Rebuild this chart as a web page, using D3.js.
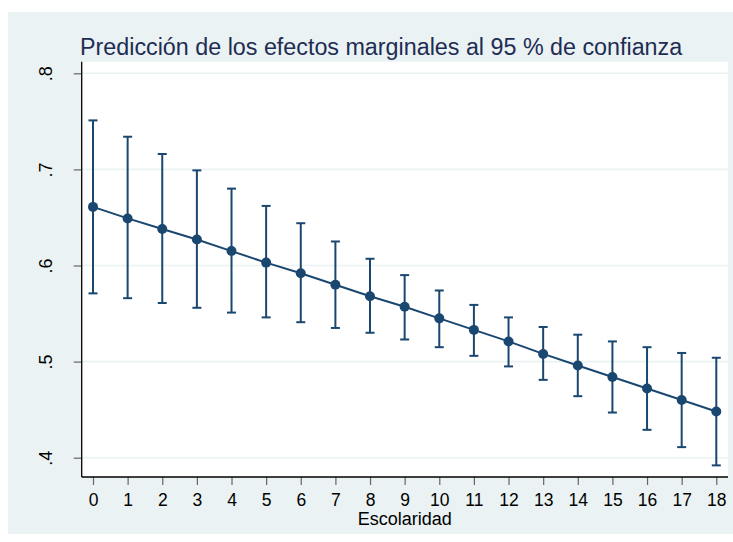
<!DOCTYPE html>
<html><head><meta charset="utf-8">
<script src="https://cdn.jsdelivr.net/npm/d3@7"></script>
<style>body{margin:0;background:#fff}svg{display:block}</style>
</head><body>
<script>
const escolaridad = [0,1,2,3,4,5,6,7,8,9,10,11,12,13,14,15,16,17,18];
const margin = [0.661,0.649,0.638,0.627,0.615,0.603,0.592,0.580,0.568,0.557,0.545,0.533,0.521,0.508,0.496,0.484,0.472,0.460,0.448];
const upper = [0.751,0.734,0.716,0.699,0.680,0.662,0.644,0.625,0.607,0.590,0.574,0.559,0.546,0.536,0.528,0.521,0.515,0.509,0.504];
const lower = [0.571,0.566,0.561,0.556,0.551,0.546,0.541,0.535,0.530,0.523,0.515,0.506,0.495,0.481,0.464,0.447,0.429,0.411,0.392];
const yTicks = [0.4,0.5,0.6,0.7,0.8];
const yTickLabels = [".4",".5",".6",".7",".8"];
const titleText = "Predicción de los efectos marginales al 95 % de confianza";
const xTitle = "Escolaridad";

const W = 733, H = 542;
const bg = "#eaf2f3", navy = "#1a476f";
const FONT = "'Liberation Sans', Arial, sans-serif";
const plot = {l:81.7, r:728, t:61.7, b:477};
const svg = d3.select("body").append("svg").attr("width",W).attr("height",H)
  .style("font-family",FONT);

svg.append("rect").attr("x",8).attr("y",12).attr("width",W-8).attr("height",534-12).attr("fill",bg);
svg.append("rect").attr("x",plot.l).attr("y",plot.t).attr("width",plot.r-plot.l).attr("height",plot.b-plot.t).attr("fill","#fff");

const x = d3.scaleLinear().domain([0,18]).range([93,716.3]);
const y = d3.scaleLinear().domain([0.4,0.8]).range([457.7,73.3]);

// grid
svg.append("g").selectAll("line").data(yTicks).join("line")
  .attr("x1",plot.l).attr("x2",plot.r).attr("y1",d=>y(d)).attr("y2",d=>y(d))
  .attr("stroke",bg).attr("stroke-width",1.6);

// y axis
const yAxis = d3.axisLeft(y).tickValues(yTicks).tickSize(8).tickFormat((d,i)=>yTickLabels[i]);
const gy = svg.append("g").attr("transform",`translate(${plot.l},0)`).call(yAxis)
  .attr("font-family",FONT).attr("font-size",18);
gy.select(".domain").remove();
gy.selectAll(".tick line").attr("stroke","#666").attr("stroke-width",1.2);
gy.selectAll(".tick text").attr("fill","#000")
  .attr("text-anchor","middle").attr("x",0).attr("dy",0)
  .attr("transform","translate(-29.5,0) rotate(-90)");
svg.append("line").attr("x1",plot.l).attr("x2",plot.l).attr("y1",plot.t).attr("y2",plot.b).attr("stroke","#000").attr("stroke-width",1.3);

// x axis
const xAxis = d3.axisBottom(x).tickValues(escolaridad).tickSize(8).tickFormat(d3.format("d"));
const gx = svg.append("g").attr("transform",`translate(0,${plot.b})`).call(xAxis)
  .attr("font-family",FONT).attr("font-size",17.5);
gx.select(".domain").remove();
gx.selectAll(".tick line").attr("stroke","#666").attr("stroke-width",1.2);
gx.selectAll(".tick text").attr("fill","#000").attr("y",28.5).attr("dy",0);
svg.append("line").attr("x1",plot.l).attr("x2",plot.r).attr("y1",plot.b).attr("y2",plot.b).attr("stroke","#000").attr("stroke-width",1.3);

svg.append("text").attr("x",(plot.l+plot.r)/2).attr("y",525).attr("text-anchor","middle")
  .attr("font-size",18).attr("fill","#000").text(xTitle);

svg.append("text").attr("x",80).attr("y",55).attr("font-size",23.3).attr("fill","#1e2d53").text(titleText);

// error bars
const data = escolaridad.map((e,i)=>({e, m:margin[i], u:upper[i], l:lower[i]}));
const eb = svg.append("g").attr("stroke",navy).attr("stroke-width",2);
eb.selectAll("line.v").data(data).join("line").attr("class","v")
  .attr("x1",d=>x(d.e)).attr("x2",d=>x(d.e)).attr("y1",d=>y(d.u)).attr("y2",d=>y(d.l));
eb.selectAll("line.cu").data(data).join("line").attr("class","cu")
  .attr("x1",d=>x(d.e)-4.5).attr("x2",d=>x(d.e)+4.5).attr("y1",d=>y(d.u)).attr("y2",d=>y(d.u));
eb.selectAll("line.cl").data(data).join("line").attr("class","cl")
  .attr("x1",d=>x(d.e)-4.5).attr("x2",d=>x(d.e)+4.5).attr("y1",d=>y(d.l)).attr("y2",d=>y(d.l));

svg.append("path").datum(data).attr("fill","none").attr("stroke",navy).attr("stroke-width",2)
  .attr("d",d3.line().x(d=>x(d.e)).y(d=>y(d.m)));
svg.append("g").selectAll("circle").data(data).join("circle")
  .attr("cx",d=>x(d.e)).attr("cy",d=>y(d.m)).attr("r",5).attr("fill",navy);
</script>
</body></html>
